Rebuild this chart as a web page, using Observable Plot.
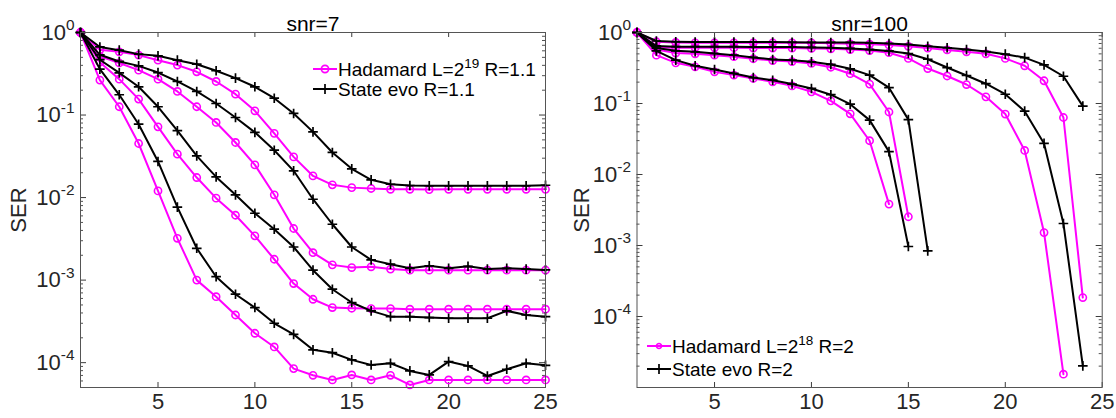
<!DOCTYPE html>
<html>
<head>
<meta charset="utf-8">
<script src="https://cdn.jsdelivr.net/npm/d3@7"></script>
<script src="https://cdn.jsdelivr.net/npm/@observablehq/plot@0.6"></script>
<style>
  body { margin: 0; background: #fff; }
  #fig { position: relative; width: 1116px; height: 418px; overflow: hidden; background: #fff; }
  #fig svg { position: absolute; top: 0; }
</style>
</head>
<body>
<div id="fig"></div>
<script>
// Iteration index (x axis)
const iterations = [1,2,3,4,5,6,7,8,9,10,11,12,13,14,15,16,17,18,19,20,21,22,23,24,25];
const xTicks = [5, 10, 15, 20, 25];

// snr = 7, R = 1.1 : Hadamard runs (magenta) and state evolution (black), four pairs
const had7a = [1, 0.617, 0.583, 0.532, 0.462, 0.403, 0.334, 0.255, 0.179, 0.1125, 0.060, 0.0311, 0.0183, 0.01426, 0.0132, 0.01288, 0.0126, 0.0126, 0.0125, 0.0126, 0.0126, 0.0126, 0.0126, 0.0126, 0.0126];
const se7a  = [1, 0.668, 0.611, 0.547, 0.522, 0.462, 0.413, 0.344, 0.280, 0.220, 0.160, 0.1045, 0.0625, 0.0352, 0.0223, 0.0164, 0.0145, 0.0140, 0.0139, 0.0139, 0.0139, 0.0139, 0.0139, 0.0139, 0.0141];
const had7b = [1, 0.513, 0.427, 0.350, 0.272, 0.193, 0.126, 0.0813, 0.0465, 0.0249, 0.0108, 0.00422, 0.00215, 0.00153, 0.00142, 0.00145, 0.00136, 0.00132, 0.00132, 0.00132, 0.00132, 0.00132, 0.00132, 0.00132, 0.00132];
const se7b  = [1, 0.537, 0.446, 0.394, 0.327, 0.255, 0.193, 0.138, 0.0933, 0.0617, 0.0375, 0.0211, 0.00955, 0.00475, 0.00252, 0.00176, 0.00156, 0.00139, 0.00149, 0.00139, 0.00147, 0.00136, 0.00139, 0.00136, 0.00133];
const had7c = [1, 0.437, 0.272, 0.156, 0.0719, 0.0336, 0.0175, 0.00984, 0.00611, 0.00344, 0.00179, 0.000908, 0.000586, 0.000465, 0.000456, 0.000452, 0.000452, 0.000444, 0.000444, 0.000444, 0.000444, 0.000444, 0.000444, 0.000444, 0.000444];
const se7c  = [1, 0.468, 0.324, 0.220, 0.126, 0.0646, 0.032, 0.0178, 0.0108, 0.00646, 0.00414, 0.00252, 0.00132, 0.000776, 0.000535, 0.000424, 0.000361, 0.000361, 0.000352, 0.000345, 0.000345, 0.000345, 0.000424, 0.000378, 0.000361];
const had7d = [1, 0.265, 0.126, 0.0452, 0.01205, 0.00321, 0.001, 0.00063, 0.000378, 0.000227, 0.000155, 0.0000847, 0.0000703, 0.0000617, 0.000071, 0.0000617, 0.0000703, 0.0000537, 0.0000617, 0.0000617, 0.0000617, 0.0000617, 0.0000617, 0.0000617, 0.0000617];
const se7d  = [1, 0.360, 0.176, 0.0774, 0.0274, 0.00767, 0.00243, 0.0011, 0.000675, 0.000465, 0.0003, 0.00022, 0.000143, 0.000132, 0.000108, 0.0000938, 0.0000982, 0.0000794, 0.000071, 0.000103, 0.0000912, 0.000069, 0.0000832, 0.0000982, 0.0000929];

// snr = 100, R = 2 : runs stop once the error reaches zero
const had100a = [1, 0.741, 0.724, 0.716, 0.716, 0.716, 0.716, 0.716, 0.716, 0.716, 0.708, 0.692, 0.684, 0.668, 0.638, 0.603, 0.569, 0.535, 0.501, 0.432, 0.340, 0.209, 0.0635, 0.000185];
const se100a  = [1, 0.759, 0.741, 0.733, 0.733, 0.733, 0.733, 0.733, 0.728, 0.724, 0.724, 0.724, 0.716, 0.70, 0.678, 0.64, 0.61, 0.575, 0.54, 0.495, 0.443, 0.35, 0.242, 0.0918];
const had100b = [1, 0.617, 0.61, 0.61, 0.61, 0.61, 0.603, 0.603, 0.603, 0.596, 0.589, 0.575, 0.556, 0.519, 0.431, 0.311, 0.244, 0.185, 0.124, 0.071, 0.0218, 0.00152, 0.0000154];
const se100b  = [1, 0.646, 0.631, 0.631, 0.631, 0.631, 0.624, 0.624, 0.624, 0.617, 0.61, 0.596, 0.575, 0.55, 0.506, 0.42, 0.321, 0.248, 0.19, 0.135, 0.078, 0.0274, 0.00204, 0.0000202];
const had100c = [1, 0.575, 0.513, 0.501, 0.479, 0.457, 0.427, 0.403, 0.389, 0.367, 0.324, 0.263, 0.1875, 0.0759, 0.00254];
const se100c  = [1, 0.603, 0.552, 0.535, 0.506, 0.48, 0.445, 0.417, 0.408, 0.386, 0.355, 0.308, 0.251, 0.167, 0.0593, 0.000841];
const had100d = [1, 0.48, 0.374, 0.329, 0.279, 0.251, 0.225, 0.202, 0.177, 0.146, 0.109, 0.0716, 0.0299, 0.00383];
const se100d  = [1, 0.552, 0.408, 0.34, 0.301, 0.265, 0.232, 0.213, 0.188, 0.163, 0.133, 0.0977, 0.0583, 0.021, 0.000968];

// Legend entries: [text, superscript, trailing text]
const legend7   = [["Hadamard L=2", "19", " R=1.1"], ["State evo R=1.1", "", ""]];
const legend100 = [["Hadamard L=2", "18", " R=2"], ["State evo R=2", "", ""]];

const FONT = '"Liberation Sans", Arial, Helvetica, sans-serif';
const AXIS = "#262626";
const MAGENTA = "#ff00ff";

function minorTicks([lo, hi]) {
  const out = [];
  for (let e = Math.floor(Math.log10(lo)); e < Math.ceil(Math.log10(hi)); e++) {
    for (let m = 2; m <= 9; m++) {
      const v = m * Math.pow(10, e);
      if (v >= lo * 0.999 && v <= hi) out.push(v);
    }
  }
  return out;
}

function panel({left, width, marginLeft, marginRight, yDomain, yTicks, title, hadamard, stateEvo, legend, legendX, legendY, legendGap, legendR, labelOffset}) {
  const height = 418, marginTop = 32, marginBottom = 31;
  const plotW = width - marginLeft - marginRight;
  const plotH = height - marginTop - marginBottom;
  const toRows = (list) => list.flatMap((values, id) => values.map((y, j) => ({id, x: iterations[j], y})));
  const had = toRows(hadamard), se = toRows(stateEvo);
  const minor = minorTicks(yDomain);

  const svg = Plot.plot({
    width, height, marginLeft, marginRight, marginTop, marginBottom,
    style: {fontFamily: FONT, fontSize: "22px", color: AXIS, background: "transparent", overflow: "visible"},
    x: {domain: [1, 25]},
    y: {type: "log", domain: yDomain},
    marks: [
      // inward tick marks on all four sides
      Plot.tickY(minor, {insetRight: plotW - 3, stroke: AXIS, strokeWidth: 0.8}),
      Plot.tickY(minor, {insetLeft: plotW - 3, stroke: AXIS, strokeWidth: 0.8}),
      Plot.tickY(yTicks, {insetRight: plotW - 6, stroke: AXIS, strokeWidth: 0.9}),
      Plot.tickY(yTicks, {insetLeft: plotW - 6, stroke: AXIS, strokeWidth: 0.9}),
      Plot.tickX(xTicks, {insetTop: plotH - 5, stroke: AXIS, strokeWidth: 0.9}),
      Plot.tickX(xTicks, {insetBottom: plotH - 5, stroke: AXIS, strokeWidth: 0.9}),
      // Hadamard runs
      Plot.line(had, {x: "x", y: "y", z: "id", stroke: MAGENTA, strokeWidth: 2}),
      Plot.dot(had, {x: "x", y: "y", symbol: "circle", r: 3.6, stroke: MAGENTA, strokeWidth: 1.6, fill: "none"}),
      // state evolution
      Plot.line(se, {x: "x", y: "y", z: "id", stroke: "black", strokeWidth: 2}),
      Plot.dot(se, {x: "x", y: "y", symbol: "plus", r: 3.2, stroke: "black", strokeWidth: 1.7}),
      Plot.frame({stroke: "#555", strokeWidth: 1}),
      Plot.axisX({ticks: xTicks, tickSize: 0, tickPadding: 6, label: null, fill: AXIS}),
      Plot.axisY({ticks: yTicks, tickSize: 0, tickPadding: 6, fill: AXIS,
        tickFormat: d => `10^${Math.round(Math.log10(d))}`,
        label: "SER", labelAnchor: "center", labelOffset, labelArrow: "none"}),
      Plot.text([title], {text: d => d, frameAnchor: "top", dy: -16, fontSize: 21, fill: "black"})
    ]
  });

  const root = d3.select(svg);
  // decade labels with raised exponent
  root.selectAll('[aria-label="y-axis tick label"] text').each(function() {
    const [base, exp] = this.textContent.split("^");
    const t = d3.select(this);
    t.text(base);
    t.append("tspan").attr("dy", "-0.6em").attr("font-size", "0.7em").text(exp);
  });

  // legend
  const g = root.append("g").attr("font-family", FONT).attr("font-size", 19)
    .attr("fill", "black").attr("text-anchor", "start");
  legend.forEach(([txt, sup, rest], i) => {
    const y = legendY + i * legendGap;
    const color = i === 0 ? MAGENTA : "black";
    g.append("line").attr("x1", legendX).attr("x2", legendX + 24).attr("y1", y).attr("y2", y)
      .attr("stroke", color).attr("stroke-width", 2);
    g.append("path").attr("transform", `translate(${legendX + 12},${y})`)
      .attr("d", d3.symbol(i === 0 ? d3.symbolCircle : d3.symbolPlus, i === 0 ? Math.PI * legendR * legendR : 34)())
      .attr("fill", "none").attr("stroke", color).attr("stroke-width", 1.7);
    const t = g.append("text").attr("x", legendX + 25).attr("y", y).attr("dy", "0.35em").style("white-space", "pre");
    t.append("tspan").text(txt);
    if (sup) {
      t.append("tspan").attr("dy", -8).attr("font-size", 13.5).text(sup);
      t.append("tspan").attr("dy", 8).text(rest);
    }
  });

  svg.style.left = left + "px";
  return svg;
}

const fig = document.getElementById("fig");
fig.appendChild(panel({
  left: 0, width: 560, marginLeft: 80, marginRight: 15,
  yDomain: [5e-5, 1], yTicks: [1e-4, 1e-3, 1e-2, 1e-1, 1],
  title: "snr=7",
  hadamard: [had7a, had7b, had7c, had7d],
  stateEvo: [se7a, se7b, se7c, se7d],
  legend: legend7, legendX: 313, legendY: 69, legendGap: 20, legendR: 3.6,
  labelOffset: 70
}));
fig.appendChild(panel({
  left: 560, width: 556, marginLeft: 76.5, marginRight: 14.3,
  yDomain: [1e-5, 1], yTicks: [1e-4, 1e-3, 1e-2, 1e-1, 1],
  title: "snr=100",
  hadamard: [had100a, had100b, had100c, had100d],
  stateEvo: [se100a, se100b, se100c, se100d],
  legend: legend100, legendX: 87, legendY: 346, legendGap: 23, legendR: 2.5,
  labelOffset: 64
}));
</script>
</body>
</html>
